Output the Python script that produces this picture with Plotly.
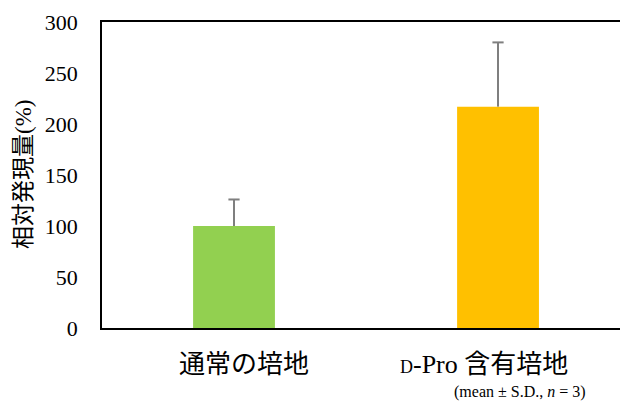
import plotly.graph_objects as go

categories = ["通常の培地", "D-Pro 含有培地"]
category_labels = ["通常の培地", "<span style='font-size:18px'>D</span>-Pro 含有培地"]
means = [100, 217]
sds = [26, 63]
colors = ["#92D050", "#FFC000"]
y_ticks = [0, 50, 100, 150, 200, 250, 300]
y_title = "相対発現量(%)"
note = "(mean ± S.D., <i>n</i> = 3)"

FONT = "Liberation Serif, 'Noto Sans CJK JP', serif"
ERR = "#7F7F7F"

fig = go.Figure()
fig.add_trace(go.Bar(
    x=categories, y=means, width=0.31,
    marker=dict(color=colors, line=dict(width=0)),
    error_y=dict(type="data", symmetric=False, array=sds,
                 arrayminus=[0] * len(sds), color=ERR, thickness=2, width=0),
    showlegend=False,
))
fig.add_trace(go.Scatter(
    x=categories, y=[m + s for m, s in zip(means, sds)], mode="markers",
    marker=dict(symbol="line-ew", size=8, line=dict(color=ERR, width=2)),
    showlegend=False, hoverinfo="skip",
))

annotations = []
label_shifts = [10, -14]
for cat, lab, sh in zip(categories, category_labels, label_shifts):
    annotations.append(dict(
        text=lab, xref="x", yref="paper", x=cat, y=0,
        xanchor="center", yanchor="middle", xshift=sh, yshift=-36,
        showarrow=False, font=dict(size=26, family=FONT, color="black"),
    ))
annotations.append(dict(
    text=y_title, xref="paper", yref="paper", x=0, y=0.5,
    xanchor="center", yanchor="middle", xshift=-79, textangle=-90,
    showarrow=False, font=dict(size=23, family=FONT, color="black"),
))
annotations.append(dict(
    text=note, xref="paper", yref="paper", x=0, y=0,
    xanchor="center", yanchor="middle", xshift=418, yshift=-64,
    showarrow=False, font=dict(size=16, family=FONT, color="black"),
))

fig.update_layout(
    width=620, height=403,
    margin=dict(l=102, r=0, t=22, b=75),
    paper_bgcolor="white", plot_bgcolor="white",
    font=dict(family=FONT, color="black"),
    xaxis=dict(
        type="category", range=[-0.5, 1.462],
        showline=True, linecolor="black", linewidth=1.5, mirror=True,
        showgrid=False, ticks="", showticklabels=False,
    ),
    yaxis=dict(
        range=[0, 300], tickvals=y_ticks,
        showline=True, linecolor="black", linewidth=1.5,
        showgrid=False, zeroline=False, ticks="",
        tickfont=dict(size=22, family=FONT, color="black"),
        ticklabelstandoff=18,
    ),
    annotations=annotations,
)

fig.write_html("out.html")
